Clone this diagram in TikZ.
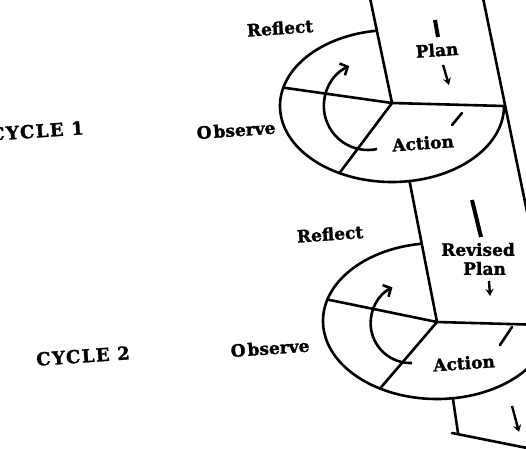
\documentclass[tikz,border=0pt]{standalone}
\usepackage{fontspec}
\setmainfont{DejaVu Serif}[BoldFeatures={FakeBold=1.5}]
\newfontfamily\cyclefont{DejaVu Serif}[LetterSpace=8,BoldFeatures={FakeBold=1.5}]
\usetikzlibrary{arrows.meta,calc}

\tikzset{
  outline/.style={line width=2.6pt,line cap=round},
  flatstage/.style={font=\fontsize{17}{19}\selectfont\bfseries,inner sep=0pt},
  stage/.style={flatstage,rotate=4},
  cyclelabel/.style={font=\cyclefont\fontsize{18}{20}\selectfont\bfseries,inner sep=0pt,rotate=4},
  turn/.style={line width=2.6pt,-{Straight Barb[length=6pt,width=13pt,line width=2.6pt]}},
  flow/.style={line width=2.4pt,-{Stealth[length=7pt,width=8pt]}},
  tickbar/.style={line width=4pt},
}

\begin{document}
\begin{tikzpicture}[x=1pt,y=-1pt]
  \useasboundingbox (0,0) rectangle (526,448);
  \clip (0,0) rectangle (526,448);
  % cycle 1
  \begin{scope}
    \coordinate (hubA) at (392,103);
    \coordinate (ringA) at (392,106);
    \coordinate (topA) at ($(ringA)+(262:112 and 76)$);
    \coordinate (rightA) at ($(ringA)+(0:112 and 76)$);
    \coordinate (bottomA) at ($(ringA)+(81:112 and 76)$);
    \draw[outline] (370,-2) -- (hubA) -- (rightA);
    \draw[outline] (483,-2) -- (532,236);
    \draw[outline] (topA) arc[start angle=262,end angle=0,x radius=112,y radius=76];
    \draw[outline] (hubA) -- ($(ringA)+(194:112 and 76)$);
    \draw[outline] (hubA) -- ($(ringA)+(118:112 and 76)$);
    \draw[turn] (377,149) arc[start angle=78,end angle=245,radius=44];
    \draw[tickbar] (435,20) -- (438,37);
    \draw[flow] (443,65) -- (449,85);
    \draw[outline] (462,113) -- (452,125);
    \node[cyclelabel] (cycleA) at (37,131) {CYCLE 1};
    \node[stage] (reflectA) at (280,28) {Reflect};
    \node[stage] (observeA) at (236,130) {O\kern2pt bserve};
    \node[stage] (planA) at (437,50) {Plan};
    \node[stage] (actionA) at (423,143) {Action};
  \end{scope}
  % cycle 2
  \begin{scope}
    \coordinate (hubB) at (437,322);
    \coordinate (ringB) at (437,321);
    \coordinate (topB) at ($(ringB)+(262:114 and 78)$);
    \coordinate (bottomB) at ($(ringB)+(82:114 and 78)$);
    \coordinate (cornerB) at (458,433);
    \draw[outline] (bottomA) -- (hubB) -- (545,325);
    \draw[outline] (topB) arc[start angle=262,end angle=0,x radius=114,y radius=78];
    \draw[outline] (hubB) -- ($(ringB)+(196:114 and 78)$);
    \draw[outline] (hubB) -- ($(ringB)+(120:114 and 78)$);
    \draw[outline] (bottomB) -- (cornerB);
    \draw[outline] ([xshift=-6pt]cornerB) -- (532,449);
    \draw[turn] (412,363) arc[start angle=88,end angle=243,radius=40];
    \draw[tickbar] (472,200) -- (481,237);
    \draw[flow] (489,281) -- (490,296);
    \draw[outline] (512,327) -- (500,345);
    \draw[flow] (512,406) -- (519,432);
    \node[cyclelabel] (cycleB) at (83,356) {CYCLE 2};
    \node[stage] (reflectB) at (330,234) {Reflect};
    \node[stage] (observeB) at (270,348) {O\kern2pt bserve};
    \node[flatstage,align=left] (planB) at (478,259)
      {Revised\\\hspace*{22pt}Plan};
    \node[stage] (actionB) at (464,363) {Action};
  \end{scope}
\end{tikzpicture}
\end{document}
